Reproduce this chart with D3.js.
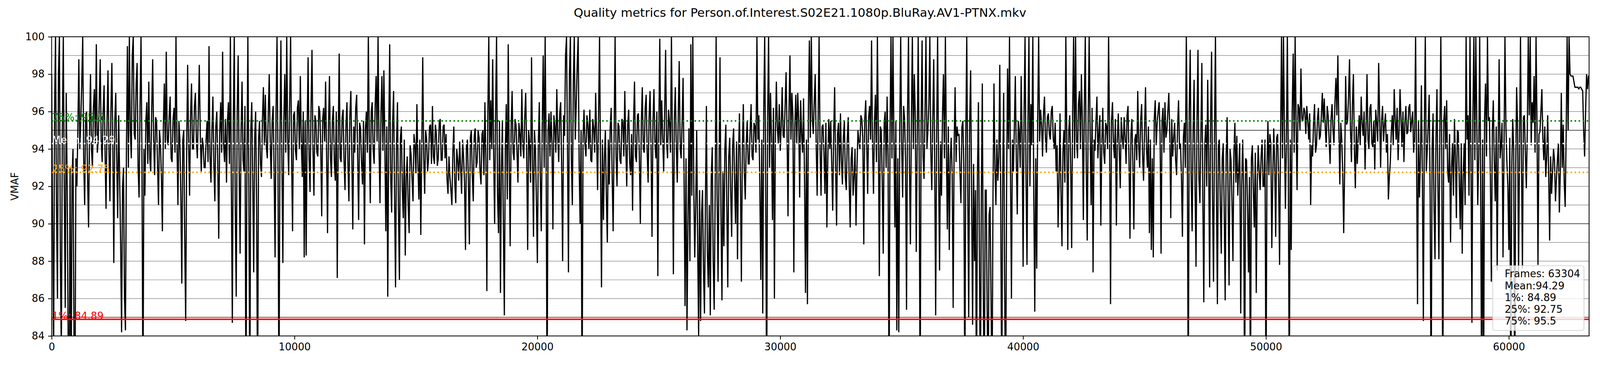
<!DOCTYPE html>
<html>
<head>
<meta charset="utf-8">
<script src="https://cdn.jsdelivr.net/npm/d3@7/dist/d3.min.js"></script>
<style>
  html, body { margin: 0; padding: 0; background: #fff; overflow: hidden; }
  svg { display: block; font-family: "DejaVu Sans", sans-serif; width: 100vw; height: calc(100vw * 1000 / 4400); }
</style>
</head>
<body>
<svg id="chart" viewBox="0 0 4400 1000" preserveAspectRatio="xMinYMin meet"></svg>
<script>
// ---------------- DATA ----------------
const chartTitle = "Quality metrics for Person.of.Interest.S02E21.1080p.BluRay.AV1-PTNX.mkv";
const yLabel = "VMAF";
const totalFrames = 63304;
const frameStride = 40; // one value read every 40 frames
const xTicks = [0, 10000, 20000, 30000, 40000, 50000, 60000];
const yTicks = [84, 86, 88, 90, 92, 94, 96, 98, 100];
const gridMinor = [86, 87, 88, 89, 91, 92, 93, 94, 96, 97, 98, 99];
const gridDark = [85, 90, 95];

const statNames = ["1%", "25%", "Mean", "75%"];
const statValues = [84.89, 92.75, 94.29, 95.5];
const statColors = ["#ff0000", "#ffa500", "#ffffff", "#008000"];
const statDotted = [false, true, true, true];
const legendLines = ["Frames: 63304", "Mean:94.29", "1%: 84.89", "25%: 92.75", "75%: 95.5"];

// VMAF values (frames 0 .. ~63300, every 40 frames)
const vmafPart1 = [
  98, 90, 82, 96, 100, 91, 86, 98, 100, 88, 83, 95, 100, 92, 85.5, 97, 92, 84, 80, 93,
  80, 92.5, 94, 84, 80, 93.5, 92, 95, 98.8, 94, 95.5, 97.5, 100, 93.5, 91, 95.8, 96, 92.5, 89.8, 95,
  98, 94, 93, 96.2, 97.2, 94.3, 99.6, 93.8, 94.5, 96.5, 98.8, 94.5, 93.3, 96, 97.4, 93.8, 90.8, 95.5, 98.2, 94,
  91.2, 96, 98.6, 94.2, 87.9, 95.5, 97, 93.5, 90.3, 95.8, 92.5, 89, 84.2, 92, 93, 86, 84.3, 94, 99.5, 93,
  100, 95, 93.5, 99, 100, 94.8, 94.5, 97.5, 98.6, 93, 91.4, 96.3, 100, 93.2, 80, 94, 91.5, 95.5, 96.5, 93.2,
  97.6, 93.5, 92.8, 96, 98.8, 94.5, 92.6, 95.7, 95.5, 93.2, 91, 95, 94.3, 92.5, 89.6, 95.2, 97.5, 94, 99.2, 94.5,
  94.2, 95.8, 96.8, 93.5, 93.3, 95.6, 96.2, 93.8, 100, 94.4, 91, 95.5, 94.5, 91.5, 86.8, 94.5, 95, 89, 84.8, 94,
  98.5, 94.2, 91.5, 95.8, 97.5, 94, 94, 96.3, 97, 94.5, 93.5, 96, 98.5, 94.8, 92.8, 94.6, 94.2, 93, 93, 94.5,
  95.5, 93.3, 99.5, 93.6, 92.2, 95, 96.8, 93.2, 91.2, 95.2, 96, 93.3, 89.2, 94.8, 96.5, 93.8, 99.2, 94.3, 93.3, 95.6,
  92.2, 95.5, 96.5, 93.2, 100, 92, 84.7, 95.5, 100, 91, 86.1, 96, 99, 93, 88.4, 95, 97.6, 93.4, 92.8, 96.3,
  80, 93, 100, 92, 80, 95, 96.5, 92.4, 87.4, 94.6, 96, 91, 80, 94.5, 95.5, 93.2, 92.5, 95.6, 97.3, 94.2,
  96.9, 94.1, 93.5, 95.9, 98, 94.3, 92.4, 95.5, 96.3, 92.8, 88.2, 96, 100, 93, 80, 94.5, 99.8, 93.5, 87.9, 95.5,
  98, 93.8, 100, 94.6, 92.6, 96.4, 100, 93.6, 89.6, 95.8, 96, 93.9, 93.4, 96.2, 96.6, 94, 97.9, 94.4, 92.5, 96,
  88.2, 95.5
];
const vmafPart2 = [
  88.3, 95, 98.9, 93.5, 91.7, 96.2, 99.3, 94, 91.5, 95.8, 95.5, 93.8, 93.6, 96.3, 96, 94.2, 90.4, 95.6, 96.2, 94.4,
  97.6, 93.8, 89.5, 95.2, 97.9, 93.6, 92.5, 95.5, 96.3, 93.3, 92.3, 96, 87.1, 94.5, 99.1, 93.5, 93.3, 95.7, 96.1, 93.4,
  91.8, 95.3, 96.5, 93.2, 91.2, 95.8, 97.1, 93.7, 89.7, 95.2, 93.8, 96.2, 96.9, 93.6, 90.2, 95.4, 95.1, 93.3, 92.1, 95.5,
  88.9, 95.1, 96, 93.8, 100, 94.6, 91.1, 96, 96.5, 93.9, 93.2, 96.3, 97.9, 94.4, 100, 94.1, 91.1, 96, 97.9, 93.9,
  98.2, 94.3, 89.6, 95.2, 86.1, 94.8, 99.6, 92.5, 90.6, 95.4, 97.1, 91.5, 86.6, 94.2, 96.5, 90.8, 87, 94.6, 95.2, 91.8,
  90.3, 94.5, 88.3, 92.5, 93.6, 91, 89.5, 94.2, 93.7, 92.4, 91.2, 94.8, 94.2, 92.7, 96.4, 93.2, 91.3, 94.5, 89.4, 94,
  98.9, 93.5, 91.6, 95, 94.5, 92.8, 93.5, 95.2, 95.3, 93.2, 96.3, 93.6, 93.2, 95.3, 94.8, 93.1, 93.5, 95.4, 95.6, 93.4,
  93.4, 95.2, 95.3, 93.5, 94.8, 92.4, 91.6, 93.6, 92.5, 91.8, 91, 93.8, 95.2, 92.2, 91.1, 94, 93.4, 92.3, 94.4, 93,
  91.6, 94.5, 93.6, 92.2, 88.6, 94.2, 94.5, 92.3, 88.9, 94.6, 95, 92.6, 91.2, 94.7, 95.1, 93, 93.3, 95, 94.6, 92.8,
  92.1, 94.8, 95, 92.6, 96.5, 93.5, 86.4, 95.8, 100, 93.4, 96.6, 94, 98.8, 93.8, 90, 96, 100, 91.5, 89.5, 95.5,
  86.3, 93, 95.5, 90, 85.1, 94, 96.4, 91.3, 99.6, 93.5, 88.8, 95.2, 97.1, 93.8, 93.4, 95.6, 95.3, 93.9, 92.2, 95.4,
  94.8, 93.6, 97.2, 94.2, 93.5, 95.7, 97, 93.8, 88.6, 95, 94.3, 92.2, 98.9, 93.6, 89.3, 95, 94, 91.2, 87.9, 94.3,
  96.5, 92.5, 89.6, 95.2, 99, 93, 100, 94, 80, 95, 95.9, 93.6, 96, 94.4, 89.7, 95.8, 95.2, 93.8, 97.2, 94.6,
  93.3, 95.9
];
const vmafPart3 = [
  96.5, 93, 88, 95.8, 94.7, 99, 100, 94, 87.4, 98, 100, 93.5, 91, 97.5, 100, 94.5, 96.4, 98.5, 100, 93.2,
  90, 95, 80, 94.6, 96.1, 94.2, 93.6, 95.8, 95.3, 94, 96.1, 93.4, 93.3, 95.6, 95.1, 93.8, 97, 94.6, 91.8, 95.8,
  100, 93, 86.6, 94.5, 90.2, 93.5, 95, 91.5, 89, 94.5, 92.1, 95.2, 96.2, 92.5, 89.6, 94.8, 100, 93.6, 92, 95.4,
  95.2, 93.4, 93.2, 95.6, 95.5, 93.6, 97.1, 94.2, 92, 95.3, 96.1, 93.3, 92.6, 94.8, 90.7, 95.5, 97.6, 93.6, 93.3, 95.8,
  95.9, 93.5, 90, 95.4, 97.3, 94, 93.8, 96.2, 96.9, 93.9, 92.2, 95.7, 97.1, 94.1, 89.3, 95.5, 97.2, 94.3, 93.5, 96,
  87.2, 95, 99.9, 94.2, 96.6, 94.6, 92.8, 95.9, 99.3, 94.4, 93.5, 96.1, 95.4, 93.8, 100, 94.5, 87.3, 95.6, 97.3, 94.2,
  92.2, 95.7, 98.7, 94, 93.5, 95.5, 97.8, 92.5, 85.6, 93.5, 84.3, 90, 95.1, 88, 99.6, 91.5, 100, 92, 88.2, 91,
  95, 89, 84, 91.8, 84.8, 90.5, 91.8, 87.5, 85.2, 91.2, 96.3, 88.5, 86.6, 91, 85.1, 92.5, 94.1, 88, 85.4, 91.5,
  100, 91.6, 86.9, 93, 98.9, 90.5, 85.9, 92.8, 88.8, 94, 95.3, 91, 86.6, 93.6, 94.6, 91.7, 89.3, 94.2, 95.1, 92.3,
  90, 94.4, 88.1, 93.6, 95.9, 92.6, 86.9, 94, 96.4, 92.8, 91.3, 94.3, 95.5, 93.2, 93.2, 95, 96.4, 93.6, 93.4, 95.4,
  95.2, 93.8, 100, 94.5, 95.8, 92, 87, 94.5, 85.2, 96, 100, 92.5, 80, 95.5, 100, 93, 97, 94.6, 90.2, 96.2,
  86, 94.8, 97.6, 95.2, 94.3, 96.4, 93.9, 95.2, 97.3, 94.7, 94.6, 96.3, 98.1, 94.9, 90.4, 96, 99, 94.5, 97, 95.8,
  87.4, 95.2, 96.9, 94.3, 97, 95.6, 91.4, 96.6, 94.8, 93.8, 96.7, 92.4, 86.3, 94.5, 85.7, 96.2, 99.8, 94.6, 100, 95.7,
  94.8, 96.5
];
const vmafPart4 = [
  98, 94.3, 91.5, 95.6, 100, 94, 91.5, 95.2, 95.3, 93.8, 91.6, 95.4, 89.8, 93.6, 95.6, 94, 95.5, 93.2, 90.7, 94.8,
  97.3, 93, 89.9, 94.8, 95.4, 92.6, 95.9, 93.4, 92.1, 94.6, 95.5, 92.5, 91.8, 94.5, 95.7, 92.2, 89.8, 93.5, 94.1, 91.5,
  92.5, 94, 89.9, 93, 95, 94.4, 94, 95.8, 95.6, 94.6, 88.9, 95.6, 96.6, 94.3, 91.6, 95.7, 96.3, 94.5, 99.8, 94.2,
  91.6, 95.5, 96.9, 93.3, 100, 94.8, 87.2, 95.2, 95, 92.3, 88.4, 95.4, 96, 93, 96.8, 93.6, 80, 95, 100, 93.5,
  100, 94.6, 89.8, 95.5, 84.3, 93.5, 84.2, 95, 100, 94.2, 91.4, 96.3, 95.6, 93.4, 85.4, 95.8, 100, 93.2, 88.9, 95.5,
  100, 94, 98, 95.8, 88.5, 94.3, 100, 93.8, 80, 95.2, 99.8, 93.6, 92.4, 95.9, 100, 94, 95, 96.4, 100, 93.8,
  91.8, 95.6, 98.8, 93.3, 85.1, 94.8, 100, 93, 87.5, 94.4, 91.5, 95.8, 98, 93.5, 100, 94.2, 89.7, 95.2, 88.6, 93.4,
  94.6, 92.6, 85.5, 94.2, 97.3, 93.3, 95.2, 94.7, 94.8, 92.8, 91.1, 95.2, 95.5, 93, 80, 94.6, 100, 92, 85, 95.5,
  98.2, 91.5, 84.6, 93.2, 88, 91.8, 80, 92.6, 96.5, 88.5, 80, 91.5, 97.5, 86.5, 80, 91.8, 91.8, 85.5, 80, 90.5,
  90.9, 86, 80, 91.5, 97.5, 93, 91, 94.5, 92.3, 93.6, 98.5, 91, 80, 92.6, 97, 86.5, 80, 92, 98.3, 94,
  100, 93, 86, 94.5, 92.8, 95.2, 97.9, 93.4, 90.5, 95.5, 95, 93, 97.9, 94.6, 87.7, 96, 100, 92.5, 87.8, 95.5,
  100, 92, 96.4, 94.2, 100, 91.5, 85.3, 93.5, 87.6, 95.6, 100, 94.4, 96.1, 95.3, 93.6, 95.9, 96.8, 94.6, 93.8, 95.7,
  95.9, 94.8, 94.5, 96, 96.3, 94.6, 94, 95.4, 92.8, 94.2, 89.8, 92.3, 95.9, 91.6, 88.8, 93.8, 95, 92.2, 100, 94.4,
  88.6, 95
];
const vmafPart5 = [
  95.8, 93, 88.7, 96, 100, 93.5, 100, 94.5, 93.5, 96.4, 97.1, 94, 98, 95.5, 90.2, 96.2, 100, 93, 89.1, 95.6,
  100, 94.8, 91, 96.2, 87.4, 94.5, 93.9, 95.5, 96.8, 93.5, 94.9, 95.8, 89.9, 94.2, 96.2, 93.8, 93.2, 95.4, 95.2, 94,
  100, 94.6, 85.7, 95.5, 96.5, 94.3, 93.5, 95.6, 89.9, 94.5, 95.9, 93.9, 91.9, 95.7, 94.7, 94, 95.7, 94.6, 93.2, 95.8,
  96.3, 93.5, 89.2, 94.8, 95.6, 93.2, 89.7, 94.5, 94.8, 93.4, 97.1, 94.2, 93, 95.5, 96.4, 93.6, 92.3, 95, 97.3, 94,
  93, 95.2, 89.5, 94.5, 88.6, 93.5, 88.2, 95.6, 96.6, 94.2, 95.4, 96, 96.5, 94.8, 88.4, 95.5, 96.2, 93.8, 96.5, 94.6,
  95, 96, 97, 94.8, 90.3, 95.6, 93.6, 94.6, 95.4, 93.4, 92.6, 95.2, 96.6, 94, 94.3, 92.5, 89.3, 94.6, 95.4, 93,
  100, 94.5, 80, 96, 99.3, 92.5, 89.6, 95, 97.7, 92, 87.7, 95.6, 99.3, 92.4, 91.1, 94.8, 98.6, 91.5, 85.8, 94.2,
  95.3, 92, 97.7, 93.6, 86.6, 95.5, 99.2, 91.5, 86.9, 94.8, 100, 92, 85.7, 94.3, 94.5, 91, 88.4, 93.5, 94.3, 90.8,
  85.9, 93.6, 95.7, 91.5, 86.7, 94, 93.4, 91.2, 88, 93.8, 95.4, 92.2, 94.7, 91.5, 93, 94.3, 85.2, 92, 94.5, 91.8,
  80, 93.5, 93.4, 91, 87.4, 92.5, 80, 93.5, 94.2, 91.8, 89.8, 93.8, 86.3, 92.2, 94.2, 92.8, 91.8, 93.6, 94.5, 92,
  92, 94.5, 80, 93, 95.5, 92.6, 94.8, 94.3, 88.7, 92.5, 95.1, 93.2, 89.3, 94.6, 94.8, 92.4, 87.8, 94.5, 100, 93.5,
  100, 95, 90.8, 94.2, 100, 93, 80, 94.5, 88.6, 96, 99.1, 93.8, 100, 95.5, 91.8, 96.4, 96.2, 95, 98.3, 95.6,
  95.5, 96.2, 96, 94.8, 96.3, 95.5, 94.5, 95.9, 91, 94.2, 93.6, 95.4, 96.4, 93.8, 94.2, 95.6, 96.2, 94.5, 94.7, 95.8,
  97, 95.4
];
const vmafPart6 = [
  96.7, 95.2, 94.1, 96.3, 95.8, 94.5, 93.2, 95.6, 96.4, 95, 94.2, 96.5, 97.8, 95.8, 99, 95.2, 92.1, 95.4, 94.5, 92.8,
  89.5, 93, 97.9, 95.3, 95.5, 96.8, 98.8, 95, 93.3, 96.4, 98, 94, 91.9, 95.2, 93.2, 94.6, 95.8, 94.2, 96.8, 95.4,
  94.7, 96, 92.9, 95.2, 98, 94.5, 94, 96.2, 96.4, 94.3, 94.1, 95.5, 92.9, 96.1, 95.4, 94.4, 98.6, 95.8, 93, 95.5,
  96.3, 94.4, 95.3, 95.9, 93.8, 94.8, 91.3, 92.5, 93.3, 94.9, 95.8, 94.2, 97.2, 95.6, 94.5, 96.2, 93.4, 95, 97.2, 95.6,
  94.1, 96, 93.3, 95.4, 96.3, 94.8, 94.9, 96.2, 96.4, 94.9, 95.5, 96, 93.8, 94.5, 100, 93.5, 85.7, 95.5, 91.4, 93.6,
  97.4, 92.5, 84.8, 95, 100, 92.8, 93.9, 95.3, 96.9, 91.5, 80, 94, 95.9, 90.8, 88.1, 94.6, 97.2, 92, 88.1, 95,
  100, 93.2, 80, 95.5, 96.3, 94, 96.6, 92.8, 92.2, 94.8, 89, 93, 94.3, 91.5, 95.6, 93.6, 90.3, 95, 94.9, 92.2,
  89.7, 94.3, 88.4, 92.5, 94.3, 91, 100, 94.5, 95.8, 91.5, 100, 93.6, 84.7, 95.8, 100, 93.4, 100, 95.5, 91, 93.6,
  100, 92.4, 80, 94.5, 80, 95.6, 97.5, 93.6, 100, 95.5, 95.7, 92.5, 86.9, 95, 96.6, 93.4, 91.2, 95.2, 87.5, 94.2,
  98.8, 93.5, 94.2, 95.4, 88.2, 93.8, 100, 95.2, 93.3, 92, 88.6, 94.6, 80, 93, 95.6, 94, 80, 92.6, 97.3, 95.3,
  87.4, 94, 100, 93.4, 87.6, 95.7, 95.8, 93.8, 91.9, 95, 100, 95.8, 100, 94.2, 96.5, 95.4, 97.9, 93.8, 100, 95.2,
  87.8, 94.8, 94.9, 96, 97.2, 94.6, 93.4, 95.2, 92.5, 93.6, 95.8, 92.6, 89.1, 93.6, 91.6, 92.8, 94, 93.4, 91.2, 92.4,
  93.4, 94.3, 90.6, 92.8, 97, 93, 95.3, 92.2, 90.9, 94.8, 100, 95, 100, 98, 97.9, 97.9, 97.9, 97.6, 97.3, 97.3,
  97.3, 97.3, 97.2, 97.3, 97.3, 97.2, 97.1, 95, 93.6, 96, 98, 97.2, 97.9, 97.9
];
const vmaf = [].concat(vmafPart1, vmafPart2, vmafPart3, vmafPart4, vmafPart5, vmafPart6);

// ---------------- LAYOUT ----------------
const W = 4400, H = 1000;
const plot = { left: 142, right: 4370, top: 101, bottom: 923 };
const fontTick = 27.8, fontTitle = 33.3;

const svg = d3.select("#chart");
const x = d3.scaleLinear().domain([0, totalFrames]).range([plot.left, plot.right]);
const y = d3.scaleLinear().domain([84, 100]).range([plot.bottom, plot.top]);

svg.append("rect").attr("width", W).attr("height", H).attr("fill", "#fff");

svg.append("defs").append("clipPath").attr("id", "clip")
  .append("rect").attr("x", plot.left).attr("y", plot.top)
  .attr("width", plot.right - plot.left).attr("height", plot.bottom - plot.top);

// grid lines
const grid = svg.append("g");
grid.selectAll("line.minor").data(gridMinor).join("line")
  .attr("x1", plot.left).attr("x2", plot.right)
  .attr("y1", d => y(d)).attr("y2", d => y(d))
  .attr("stroke", "#7a7a7a").attr("stroke-width", 1.3);
grid.selectAll("line.dark").data(gridDark).join("line")
  .attr("x1", plot.left).attr("x2", plot.right)
  .attr("y1", d => y(d)).attr("y2", d => y(d))
  .attr("stroke", "#1a1a1a").attr("stroke-width", 1.6);

// data line
const line = d3.line().x((d, i) => x(i * frameStride)).y(d => y(d));
svg.append("path").datum(vmaf)
  .attr("clip-path", "url(#clip)")
  .attr("d", line)
  .attr("fill", "none").attr("stroke", "#000").attr("stroke-width", 3.3)
  .attr("stroke-linejoin", "miter").attr("stroke-miterlimit", 1.5);

// statistic lines and labels
const lw = 4.17;
const statLayer = svg.append("g").attr("clip-path", "url(#clip)");
statValues.forEach((v, i) => {
  statLayer.append("line")
    .attr("x1", plot.left).attr("x2", plot.right)
    .attr("y1", y(v)).attr("y2", y(v))
    .attr("stroke", statColors[i]).attr("stroke-width", lw)
    .attr("stroke-dasharray", statDotted[i] ? `${lw},${lw * 1.65}` : null);
});
statValues.forEach((v, i) => {
  svg.append("text")
    .attr("x", x(0) + 1).attr("y", y(v))
    .attr("fill", statColors[i]).attr("font-size", fontTick)
    .text(`${statNames[i]}: ${v}`);
});

// axes
const yAxis = d3.axisLeft(y).tickValues(yTicks).tickSize(9.7).tickPadding(9.7).tickFormat(d3.format("d"));
const gy = svg.append("g").attr("transform", `translate(${plot.left},0)`).call(yAxis);
const xAxis = d3.axisBottom(x).tickValues(xTicks).tickSize(9.7).tickPadding(9.7).tickFormat(d3.format("d"));
const gx = svg.append("g").attr("transform", `translate(0,${plot.bottom})`).call(xAxis);
[gx, gy].forEach(g => {
  g.select(".domain").remove();
  g.selectAll(".tick line").attr("stroke", "#000").attr("stroke-width", 2.2);
  g.selectAll(".tick text").attr("font-size", fontTick).attr("fill", "#000")
    .attr("font-family", "DejaVu Sans");
});

// spines
svg.append("rect")
  .attr("x", plot.left).attr("y", plot.top)
  .attr("width", plot.right - plot.left).attr("height", plot.bottom - plot.top)
  .attr("fill", "none").attr("stroke", "#000").attr("stroke-width", 2.2);

// title & y label
svg.append("text").attr("x", W / 2).attr("y", 46).attr("text-anchor", "middle")
  .attr("font-size", fontTitle).attr("fill", "#000").text(chartTitle);
svg.append("text")
  .attr("transform", `translate(50,${(plot.top + plot.bottom) / 2}) rotate(-90)`)
  .attr("text-anchor", "middle").attr("font-size", fontTick).attr("fill", "#000").text(yLabel);

// legend
const legW = 251, legH = 178;
const legX = plot.right - 14 - legW, legY = plot.bottom - 15 - legH;
const leg = svg.append("g");
leg.append("rect").attr("x", legX).attr("y", legY).attr("width", legW).attr("height", legH)
  .attr("rx", 5.5).attr("ry", 5.5)
  .attr("fill", "#fff").attr("fill-opacity", 0.8)
  .attr("stroke", "#cccccc").attr("stroke-opacity", 0.8).attr("stroke-width", 2.2);
leg.selectAll("text").data(legendLines).join("text")
  .attr("x", legX + 33).attr("y", (d, i) => legY + 32 + i * 32.4)
  .attr("font-size", fontTick).attr("fill", "#000").text(d => d);
</script>
</body>
</html>
